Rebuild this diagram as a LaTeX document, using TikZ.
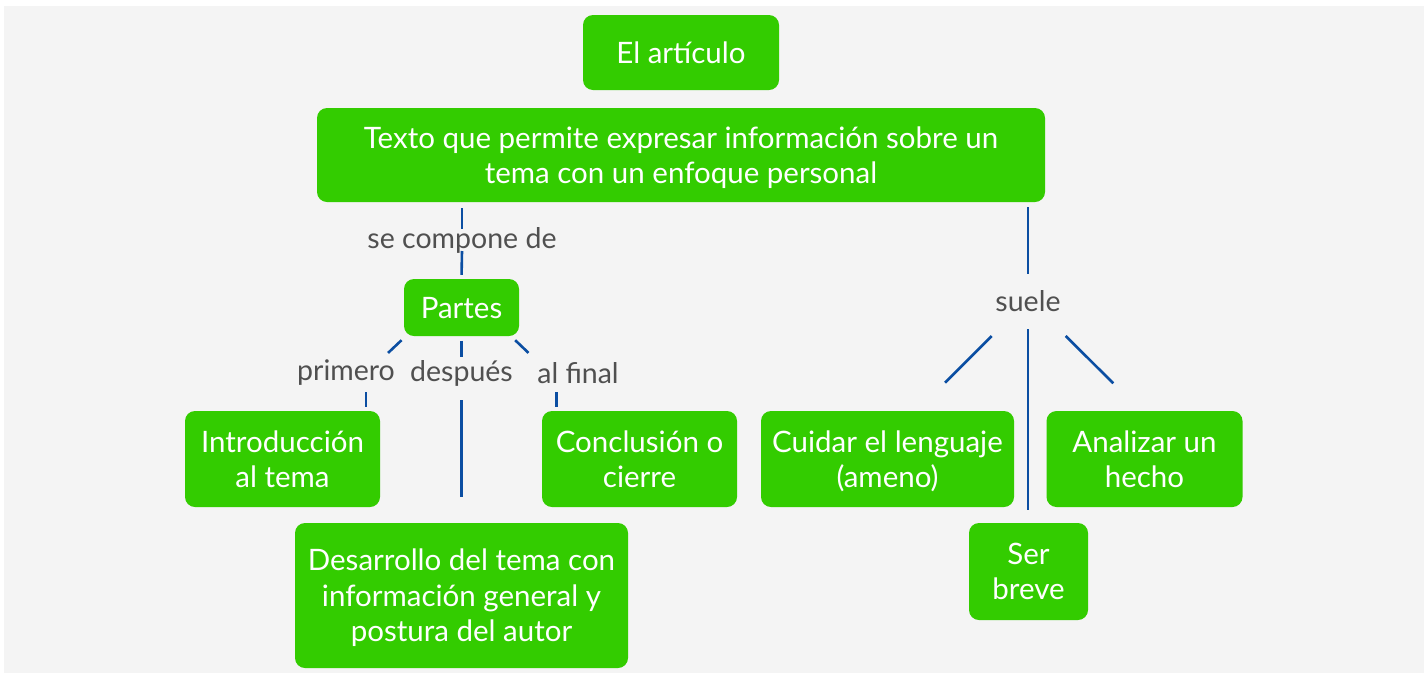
\documentclass[tikz,border=0pt]{standalone}
\usepackage{fontspec}
\setmainfont{Lato}

\definecolor{boxgreen}{HTML}{33CC00}
\definecolor{linkblue}{HTML}{0B4EA2}
\definecolor{wordgray}{HTML}{505050}
\definecolor{paper}{HTML}{F4F4F4}

\tikzset{
  concept/.style={fill=boxgreen, rounded corners=10pt, text=white, align=center,
    inner sep=0pt, text depth=0pt, font=\fontsize{29.5}{35.5}\selectfont},
  linkword/.style={text=wordgray, inner sep=0pt, minimum height=22pt,
    font=\fontsize{28.5}{32}\selectfont},
  link/.style={draw=linkblue, line width=2.6pt},
}

\begin{document}
\begin{tikzpicture}[x=1pt,y=-1pt]
    \useasboundingbox (0,0) rectangle (1424,673);
    \fill[paper] (4,6) rectangle (1424,673);

    \node[concept, minimum width=196pt, minimum height=75pt] (articulo) at (681,52.5) {El artículo};
    \node[concept, minimum width=728pt, minimum height=94pt] (texto) at (681,155) {Texto que permite expresar información sobre un\\tema con un enfoque personal};
    \node[concept, minimum width=115pt, minimum height=57pt] (partes) at (461.5,307.5) {Partes};
    \node[concept, minimum width=195pt, minimum height=96pt] (intro) at (282.5,459) {Introducción\\al tema};
    \node[concept, minimum width=195pt, minimum height=96pt] (cierre) at (639.5,459) {Conclusión o\\cierre};
    \node[concept, minimum width=333pt, minimum height=145pt] (desarrollo) at (461.5,595.5) {Desarrollo del tema con\\información general y\\postura del autor};
    \node[concept, minimum width=253pt, minimum height=96pt] (cuidar) at (887.5,459) {Cuidar el lenguaje\\(ameno)};
    \node[concept, minimum width=196pt, minimum height=96pt] (analizar) at (1144.5,459) {Analizar un\\hecho};
    \node[concept, minimum width=119pt, minimum height=97pt] (breve) at (1028.5,571.5) {Ser\\breve};

    \node[linkword] (compone) at (462,240) {se compone de};
    \node[linkword] (primero) at (346,373) {primero};
    \node[linkword] (despues) at (461.5,373) {después};
    \node[linkword] (alfinal) at (578,373) {al final};
    \node[linkword] (suele) at (1028,301) {suele};

    \draw[link, shorten <=6pt] (texto.south -| compone) -- ([yshift=11pt]compone.center);
    \draw[link, shorten >=4pt] ([yshift=-11pt]compone.center) -- (partes.north);

    \draw[link] ([shift={(-2.3,4)}]partes.south west) -- ++(-13.4,12.7);
    \draw[link] ([shift={(-14.3,-4.3)}]intro.north east) -- ++(0,-15);
    \draw[link, shorten <=4.7pt] (partes.south) -- ++(0,20.7);
    \draw[link, shorten <=27pt, shorten >=26pt] (despues.center) -- (desarrollo.north);
    \draw[link] ([shift={(-4,4)}]partes.south east) -- ++(13.3,12.7);
    \draw[link] ([shift={(14.7,-4.3)}]cierre.north west) -- ++(0,-15);

    \draw[link, shorten <=5pt, shorten >=27pt] (texto.south -| suele) -- (suele.center);
    \draw[link] ([shift={(-36.3,35)}]suele.center) -- ++(-46.7,46.7);
    \draw[link, shorten <=28pt, shorten >=13pt] (suele.center) -- (suele.center |- breve.north);
    \draw[link] ([shift={(37.7,35)}]suele.center) -- ++(47.6,47.3);
\end{tikzpicture}
\end{document}
